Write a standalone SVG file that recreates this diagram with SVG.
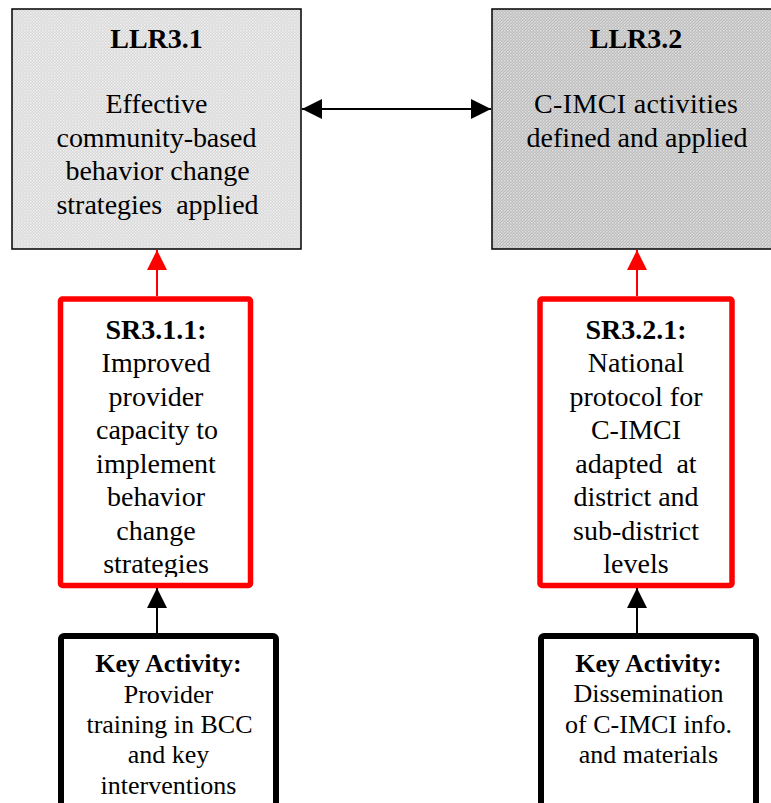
<svg xmlns="http://www.w3.org/2000/svg" width="771" height="803" viewBox="0 0 771 803">
  <style>
    text { font-family: "Liberation Serif", "Times New Roman", serif; fill: #000; text-anchor: middle; }
    .title { font-size: 28px; font-weight: bold; }
    .body { font-size: 28px; }
    .kbody { font-size: 26px; }
    .kbold { font-size: 26px; font-weight: bold; }
    .llr { stroke: #000; stroke-width: 1.5; }
    .sr { fill: #fff; stroke: #ff0000; stroke-width: 5.5; }
    .ka { fill: #fff; stroke: #000; stroke-width: 6; }
    .link-black { stroke: #000; stroke-width: 2; fill: none; }
    .link-red { stroke: #ff0000; stroke-width: 2; fill: none; }
  </style>
  <defs>
    <pattern id="dotsLight" width="3" height="3" patternUnits="userSpaceOnUse">
      <rect width="3" height="3" fill="#d6d6d6"/>
      <rect x="0" y="0" width="1.5" height="1.5" fill="#f2f2f2"/>
      <rect x="1.5" y="1.5" width="1.5" height="1.5" fill="#ebebeb"/>
    </pattern>
    <pattern id="dotsDark" width="3" height="3" patternUnits="userSpaceOnUse">
      <rect width="3" height="3" fill="#bcbcbc"/>
      <rect x="0" y="0" width="1.5" height="1.5" fill="#e0e0e0"/>
      <rect x="1.5" y="1.5" width="1.5" height="1.5" fill="#d4d4d4"/>
    </pattern>
    <marker id="headBlack" markerUnits="userSpaceOnUse" markerWidth="20" markerHeight="20" viewBox="0 0 20 20" refX="20" refY="10" orient="auto-start-reverse">
      <path d="M0,0 L20,10 L0,20 Z" fill="#000"/>
    </marker>
    <marker id="headRed" markerUnits="userSpaceOnUse" markerWidth="20" markerHeight="20" viewBox="0 0 20 20" refX="20" refY="10" orient="auto">
      <path d="M0,0 L20,10 L0,20 Z" fill="#ff0000"/>
    </marker>
    <clipPath id="srLeftClip">
      <rect x="63" y="302" width="185" height="275"/>
    </clipPath>
  </defs>

  <!-- connectors -->
  <g id="connectors">
    <line class="link-black" x1="302" y1="109" x2="491" y2="109" marker-start="url(#headBlack)" marker-end="url(#headBlack)"/>
    <line class="link-red" x1="157" y1="296" x2="157" y2="250" marker-end="url(#headRed)"/>
    <line class="link-red" x1="637" y1="296" x2="637" y2="250" marker-end="url(#headRed)"/>
    <line class="link-black" x1="157" y1="633" x2="157" y2="588" marker-end="url(#headBlack)"/>
    <line class="link-black" x1="637" y1="633" x2="637" y2="588" marker-end="url(#headBlack)"/>
  </g>

  <!-- lower-level result 3.1 -->
  <g id="llr31">
    <rect class="llr" x="12" y="9" width="289" height="240" fill="url(#dotsLight)"/>
    <text class="title" x="156.5" y="48">LLR3.1</text>
    <text class="body" x="156.5" y="113">Effective</text>
    <text class="body" x="156.5" y="147" textLength="200" lengthAdjust="spacing">community-based</text>
    <text class="body" x="157.5" y="180">behavior change</text>
    <text class="body" x="157.5" y="214" xml:space="preserve">strategies  applied</text>
  </g>

  <!-- lower-level result 3.2 -->
  <g id="llr32">
    <rect class="llr" x="492" y="9" width="289" height="240" fill="url(#dotsDark)"/>
    <text class="title" x="636" y="48">LLR3.2</text>
    <text class="body" x="636" y="113" textLength="204" lengthAdjust="spacing">C-IMCI activities</text>
    <text class="body" x="637" y="147">defined and applied</text>
  </g>

  <!-- sub-result 3.1.1 -->
  <g id="sr311">
    <rect class="sr" x="60.5" y="299" width="190" height="286.5" rx="2"/>
    <g clip-path="url(#srLeftClip)">
      <text class="title" x="156" y="339">SR3.1.1:</text>
      <text class="body" x="156" y="372">Improved</text>
      <text class="body" x="156" y="405.5">provider</text>
      <text class="body" x="157" y="439">capacity to</text>
      <text class="body" x="156" y="472.5">implement</text>
      <text class="body" x="156" y="506">behavior</text>
      <text class="body" x="156" y="539.5">change</text>
      <text class="body" x="156" y="573">strategies</text>
    </g>
  </g>

  <!-- sub-result 3.2.1 -->
  <g id="sr321">
    <rect class="sr" x="540" y="299" width="192" height="286.5" rx="2"/>
    <text class="title" x="636" y="339">SR3.2.1:</text>
    <text class="body" x="636" y="372">National</text>
    <text class="body" x="636" y="405.5">protocol for</text>
    <text class="body" x="636" y="439">C-IMCI</text>
    <text class="body" x="636" y="472.5" xml:space="preserve">adapted  at</text>
    <text class="body" x="636" y="506">district and</text>
    <text class="body" x="636" y="539.5">sub-district</text>
    <text class="body" x="636" y="573">levels</text>
  </g>

  <!-- key activity under SR3.1.1 -->
  <g id="ka311">
    <rect class="ka" x="61" y="636" width="215" height="190" rx="3"/>
    <text class="kbold" x="168.5" y="672">Key Activity:</text>
    <text class="kbody" x="168.5" y="703">Provider</text>
    <text class="kbody" x="169.5" y="733">training in BCC</text>
    <text class="kbody" x="168.5" y="763">and key</text>
    <text class="kbody" x="168.5" y="794">interventions</text>
  </g>

  <!-- key activity under SR3.2.1 -->
  <g id="ka321">
    <rect class="ka" x="541" y="636" width="215" height="190" rx="3"/>
    <text class="kbold" x="648.5" y="672">Key Activity:</text>
    <text class="kbody" x="648.5" y="702">Dissemination</text>
    <text class="kbody" x="648.5" y="733">of C-IMCI info.</text>
    <text class="kbody" x="648.5" y="763">and materials</text>
  </g>
</svg>
